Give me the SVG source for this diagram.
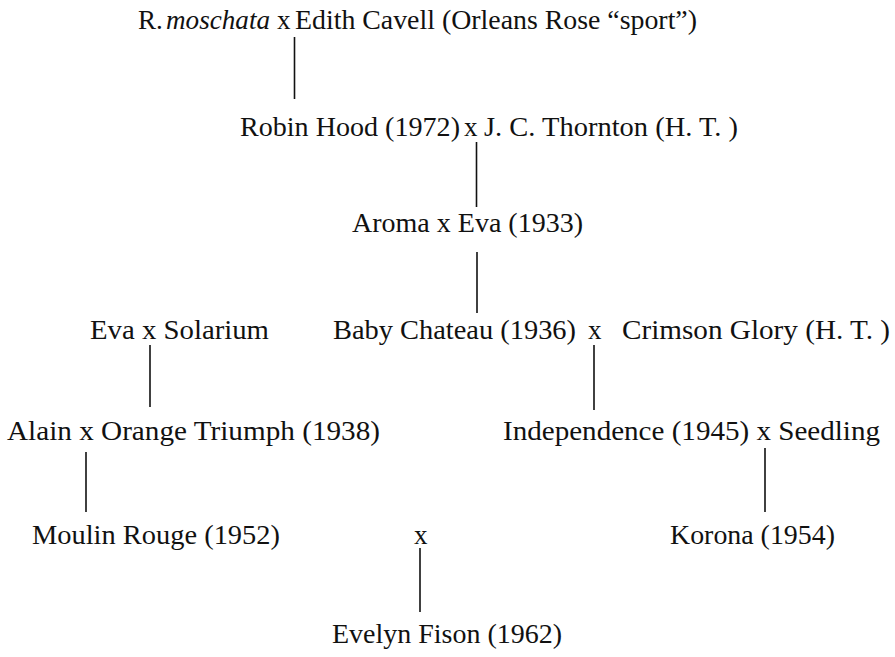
<svg xmlns="http://www.w3.org/2000/svg" width="895" height="657" viewBox="0 0 895 657">
  <style>
    .t { font-family: "Liberation Serif", "DejaVu Serif", serif; font-size: 27px; fill: #111; }
    .i { font-style: italic; }
    .c { stroke: #111; stroke-width: 1.6; fill: none; }
  </style>
  <rect width="895" height="657" fill="#fff"/>

  <!-- lineage connectors -->
  <g id="connectors" class="c">
    <line x1="294.5" y1="37" x2="294.5" y2="99"/>
    <line x1="476.5" y1="142" x2="476.5" y2="207"/>
    <line x1="477" y1="252" x2="477" y2="313"/>
    <line x1="150" y1="345" x2="150" y2="407"/>
    <line x1="594" y1="345" x2="594" y2="410"/>
    <line x1="86" y1="452" x2="86" y2="512"/>
    <line x1="765" y1="448" x2="765" y2="512"/>
    <line x1="420" y1="548" x2="420" y2="612"/>
  </g>

  <!-- generation 1 -->
  <g id="moschata-cross">
    <text class="t" x="138" y="29">R.</text>
    <text class="t i" x="166" y="29" textLength="104" lengthAdjust="spacingAndGlyphs">moschata</text>
    <text class="t" x="277" y="29">x</text>
    <text class="t" x="295" y="29" textLength="402" lengthAdjust="spacingAndGlyphs">Edith Cavell (Orleans Rose “sport”)</text>
  </g>

  <!-- generation 2 -->
  <g id="robin-hood-cross">
    <text class="t" x="240" y="136" textLength="220" lengthAdjust="spacingAndGlyphs">Robin Hood (1972)</text>
    <text class="t" x="464" y="136">x</text>
    <text class="t" x="484" y="136" textLength="254" lengthAdjust="spacingAndGlyphs">J. C. Thornton (H. T. )</text>
  </g>

  <!-- generation 3 -->
  <g id="aroma-cross">
    <text class="t" x="352" y="232" textLength="231" lengthAdjust="spacingAndGlyphs">Aroma x Eva (1933)</text>
  </g>

  <!-- generation 4 -->
  <g id="eva-solarium">
    <text class="t" x="90" y="339" textLength="179" lengthAdjust="spacingAndGlyphs">Eva x Solarium</text>
  </g>
  <g id="baby-chateau-cross">
    <text class="t" x="333" y="339" textLength="243" lengthAdjust="spacingAndGlyphs">Baby Chateau (1936)</text>
    <text class="t" x="588" y="339">x</text>
    <text class="t" x="622" y="339" textLength="268" lengthAdjust="spacingAndGlyphs">Crimson Glory (H. T. )</text>
  </g>

  <!-- generation 5 -->
  <g id="alain-cross">
    <text class="t" x="7" y="440" textLength="373" lengthAdjust="spacingAndGlyphs">Alain x Orange Triumph (1938)</text>
  </g>
  <g id="independence-cross">
    <text class="t" x="503" y="440" textLength="377" lengthAdjust="spacingAndGlyphs">Independence (1945) x Seedling</text>
  </g>

  <!-- generation 6 -->
  <g id="moulin-rouge">
    <text class="t" x="32" y="544" textLength="248" lengthAdjust="spacingAndGlyphs">Moulin Rouge (1952)</text>
  </g>
  <g id="final-cross">
    <text class="t" x="414" y="544">x</text>
  </g>
  <g id="korona">
    <text class="t" x="670" y="544" textLength="165" lengthAdjust="spacingAndGlyphs">Korona (1954)</text>
  </g>

  <!-- generation 7 -->
  <g id="evelyn-fison">
    <text class="t" x="332" y="643" textLength="230" lengthAdjust="spacingAndGlyphs">Evelyn Fison (1962)</text>
  </g>
</svg>
